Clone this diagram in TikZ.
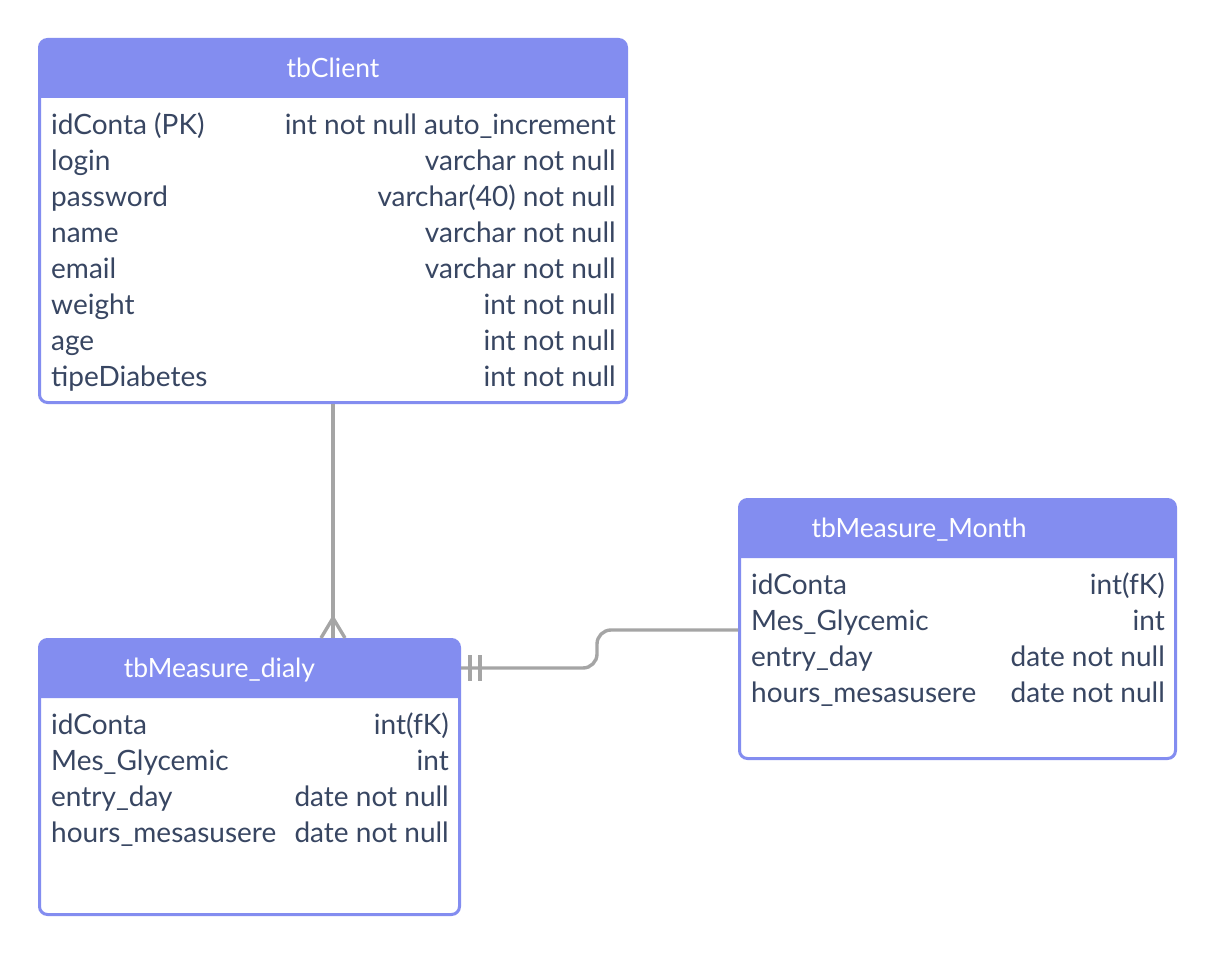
\documentclass[tikz,border=0pt]{standalone}
\usepackage{fontspec}
\setmainfont{Lato}
\usetikzlibrary{calc}
\definecolor{hdrblue}{RGB}{131,141,240}
\definecolor{rowtext}{RGB}{56,70,98}
\definecolor{linkgray}{RGB}{165,165,165}
\tikzset{
  frame/.style={draw=hdrblue,line width=3pt,rounded corners=8pt,fill=none,inner sep=0pt},
  title/.style={text=white,font=\fontsize{26.5}{30}\selectfont,inner sep=0pt,anchor=base},
  field/.style={text=rowtext,anchor=base west,font=\fontsize{28}{32}\selectfont,inner sep=0pt},
  ftype/.style={field,anchor=base east},
  link/.style={draw=linkgray,line width=3.4pt},
}
\begin{document}
\begin{tikzpicture}[x=1pt,y=-1pt]
        \useasboundingbox[fill=white] (0,0) rectangle (1217,957) ;
        % tbClient
        \fill[hdrblue] (39.5,98) [rounded corners=8pt] -- (39.5,39.5) -- (626.5,39.5) [sharp corners] -- (626.5,98) -- cycle ;
        \node[frame,minimum width=587pt,minimum height=363pt] (client) at (333,221) {} ;
        \node[title] (clientT) at (333,77.3) {tbClient} ;
        \foreach \n/\t [count=\i] in {idConta (PK)/int not null auto\_increment,login/varchar not null,
            password/varchar(40) not null,name/varchar not null,email/varchar not null,
            weight/int not null,age/int not null,tipeDiabetes/int not null}
          {\node[field] (cn\i) at (51,98.3+36*\i) {\n} ;
           \node[ftype] (ct\i) at (616,98.3+36*\i) {\t} ;}
        % tbMeasure_dialy
        \fill[hdrblue] (39.5,698) [rounded corners=8pt] -- (39.5,639.5) -- (459.5,639.5) [sharp corners] -- (459.5,698) -- cycle ;
        \node[frame,minimum width=420pt,minimum height=275pt] (dialy) at (249.5,777) {} ;
        \node[title] (dialyT) at (219.5,677.3) {tbMeasure\_dialy} ;
        \foreach \n/\t [count=\i] in {idConta/int(fK),Mes\_Glycemic/int,entry\_day/date not null,hours\_mesasusere/date not null}
          {\node[field] (dn\i) at (51,698.3+36*\i) {\n} ;
           \node[ftype] (dt\i) at (449,698.3+36*\i) {\t} ;}
        % tbMeasure_Month
        \fill[hdrblue] (739.5,558) [rounded corners=8pt] -- (739.5,499.5) -- (1175.5,499.5) [sharp corners] -- (1175.5,558) -- cycle ;
        \node[frame,minimum width=436pt,minimum height=259pt] (month) at (957.5,629) {} ;
        \node[title] (monthT) at (919,537.3) {tbMeasure\_Month} ;
        \foreach \n/\t [count=\i] in {idConta/int(fK),Mes\_Glycemic/int,entry\_day/date not null,hours\_mesasusere/date not null}
          {\node[field] (mn\i) at (751,558.3+36*\i) {\n} ;
           \node[ftype] (mt\i) at (1165,558.3+36*\i) {\t} ;}
        % connectors
        \coordinate (foot) at (client.south |- dialy.north) ;
        \draw[link] (client.south) -- (foot) ;
        \draw[link] ($(foot)+(-12,0)$) -- ++(12,-20) -- ++(12,20) ;
        \coordinate (dialyE) at ($(dialy.north east)+(0,30)$) ;
        \coordinate (monthW) at ($(month.north west)+(0,132)$) ;
        \draw[link,rounded corners=14pt] (dialyE) -| (597,630) -- (monthW) ;
        \draw[link] ($(dialyE)+(9,-13)$) -- ++(0,26) ;
        \draw[link] ($(dialyE)+(19,-13)$) -- ++(0,26) ;
\end{tikzpicture}
\end{document}
